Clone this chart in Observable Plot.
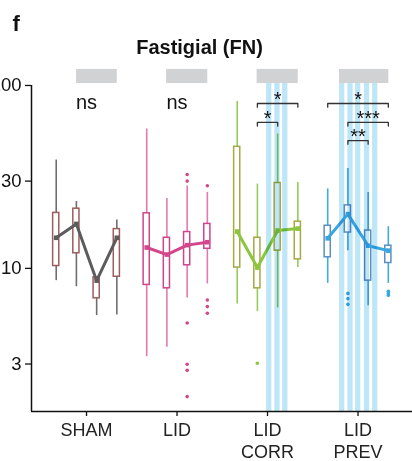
<!DOCTYPE html>
<html><head><meta charset="utf-8">
<script src="https://cdn.jsdelivr.net/npm/d3@7"></script>
<script src="https://cdn.jsdelivr.net/npm/@observablehq/plot@0.6"></script>
<style>body{margin:0;background:#fff}</style>
</head><body><div id="chart"></div><script>
const groups = ["SHAM", "LID", "LID\nCORR", "LID\nPREV"];
const boxOffsets = [-0.335, -0.112, 0.112, 0.335];
// 16 boxes: 4 per group, group order as above
const whiskerLow = [8.57, 7.94, 5.52, 5.56,  3.29, 3.70, 6.89, 8.22,  6.39, 5.80, 6.08, 10.1,  8.28, 12.5, 6.25, 8.28];
const q1         = [10.3, 12.1, 6.86, 9.0,   8.12, 7.78, 10.4, 12.8,  10.1, 7.78, 12.5, 11.2,  11.5, 15.7, 8.57, 10.7];
const median     = [14.7, 17.5, 8.57, 14.7,  13.0, 11.9, 13.4, 13.9,  15.9, 10.1, 16.1, 16.5,  14.6, 19.8, 13.3, 12.5];
const q3         = [20.1, 21.2, 8.93, 16.4,  20.0, 14.7, 15.8, 17.5,  46.2, 14.7, 29.3, 18.0,  17.1, 22.1, 16.1, 13.3];
const whiskerHigh= [39.1, 23.2, 8.93, 18.4,  57.8, 24.1, 28.2, 26.0,  81.8, 28.9, 54.3, 29.5,  27.2, 35.2, 26.0, 16.9];
// outliers: group, box, value
const outlierGroup = [1,1,1,1,1,1, 1,1,1,1, 2, 3,3,3, 3,3,3];
const outlierBox   = [2,2,2,2,2,2, 3,3,3,3, 1, 1,1,1, 3,3,3];
const outlierValue = [32.6,30.0,5.03,2.99,2.77,1.99, 28.3,6.72,6.18,5.68, 3.03, 7.3,6.83,6.36, 7.49,7.3,7.12];

const boxColors = ["#9c5d5c", "#d0448a", "#a6a843", "#5b8ec5"];
const whiskerColors = ["#6e6e6e", "#e07bb2", "#95cc5a", "#3fa9e1"];
const lineColors = ["#5c5c5c", "#d3468c", "#8bc63e", "#39a6df"];

// stimulation stripes (x positions in group units)
const stripeX = [2.019, 2.11, 2.196, 2.825, 2.917, 3.002, 3.099, 3.19];
// gray bars per group: from/to offsets
const grayFrom = [-0.11, -0.115, -0.115, -0.205];
const grayTo = [0.34, 0.34, 0.34, 0.34];
// significance
const nsGroups = [0, 1];
const bracketGroup = [2, 2, 3, 3, 3];
const bracketFrom = [1, 1, 0, 1, 1];
const bracketTo = [3, 2, 3, 3, 2];
const bracketLevel = [0, 1, 0, 1, 2];
const bracketLabel = ["*", "*", "*", "***", "**"];
const levelValues = [79.7, 62.8, 50.0];
const yTicks = [3, 10, 30, 100];

const yMin = 1.65, yTop = 128.6, stripeTop = 102.5, grayTop = 122.4;
const bw = 0.034, sw = 0.029;

const boxes = [];
for (let g = 0; g < 4; g++) for (let b = 0; b < 4; b++) {
  const i = g * 4 + b;
  boxes.push({g, b, x: g + boxOffsets[b], low: whiskerLow[i], q1: q1[i], med: median[i], q3: q3[i], high: whiskerHigh[i]});
}
const outliers = outlierValue.map((v, i) => ({g: outlierGroup[i], x: outlierGroup[i] + boxOffsets[outlierBox[i]], v}));
const grays = grayFrom.map((f, g) => ({x1: g + f, x2: g + grayTo[g]}));
const bracketPts = [];
const bracketTxt = [];
bracketGroup.forEach((g, k) => {
  const xa = g + boxOffsets[bracketFrom[k]], xb = g + boxOffsets[bracketTo[k]];
  const y = levelValues[bracketLevel[k]], yl = y * 0.955;
  [[xa, yl], [xa, y], [xb, y], [xb, yl]].forEach(([x, yy]) => bracketPts.push({id: k, x, y: yy}));
  bracketTxt.push({x: (xa + xb) / 2, y, t: bracketLabel[k]});
});

const font = "'Liberation Sans', Arial, Helvetica, sans-serif";
const chart = Plot.plot({
  width: 412, height: 461,
  marginLeft: 31, marginRight: 0, marginTop: 65, marginBottom: 50,
  x: {domain: [-0.608, 3.602], axis: null},
  y: {type: "log", domain: [yMin, yTop], axis: null},
  style: {fontFamily: font, background: "white", color: "#111"},
  marks: [
    Plot.rect(grays, {x1: "x1", x2: "x2", y1: stripeTop, y2: grayTop, fill: "#d1d2d4"}),
    Plot.ruleX(boxes, {x: "x", y1: "low", y2: "high", stroke: d => whiskerColors[d.g], strokeWidth: 1.6}),
    Plot.rect(boxes, {x1: d => d.x - bw, x2: d => d.x + bw, y1: "q1", y2: "q3", fill: "white", stroke: d => boxColors[d.g], strokeWidth: 1.5}),
    Plot.dot(outliers, {x: "x", y: "v", r: 1.8, fill: d => lineColors[d.g], stroke: "none"}),
    Plot.line(boxes, {x: "x", y: "med", z: "g", stroke: d => lineColors[d.g], strokeWidth: 3}),
    Plot.dot(boxes, {x: "x", y: "med", symbol: "square", r: 2.6, fill: d => lineColors[d.g], stroke: "none"}),
    Plot.rect(stripeX, {x1: d => d - sw, x2: d => d + sw, y1: yMin, y2: stripeTop, fill: "#bde6f7", mixBlendMode: "multiply"}),
    Plot.ruleX([-0.608], {y1: yMin, y2: 100, stroke: "#111", strokeWidth: 1.5}),
    Plot.ruleY([yMin], {stroke: "#111", strokeWidth: 1.5}),
    Plot.axisY({ticks: yTicks, tickFormat: d => String(d), tickSize: 6, tickPadding: 4, fontSize: 18.5, stroke: "#111", strokeWidth: 1.3}),
    Plot.axisX({ticks: [0, 1, 2, 3], tickFormat: i => groups[i], tickSize: 5, tickPadding: 5, fontSize: 18, lineHeight: 1.17, fill: "#222", stroke: "#111", strokeWidth: 1.3}),
    Plot.text(nsGroups, {x: d => d, y: levelValues[0], text: () => "ns", fontSize: 20, dy: -1, fill: "#111"}),
    Plot.line(bracketPts, {x: "x", y: "y", z: "id", stroke: "#333", strokeWidth: 1.3}),
    Plot.text(bracketTxt, {x: "x", y: "y", text: "t", fontSize: 20, dy: -4, fill: "#111"}),
    Plot.text(["Fastigial (FN)"], {frameAnchor: "top-left", lineAnchor: "middle", dx: 168, dy: -17.5, textAnchor: "middle", fontSize: 20, fontWeight: "bold", fill: "#111"}),
    Plot.text(["f"], {frameAnchor: "top-left", lineAnchor: "middle", dx: -19, dy: -42, textAnchor: "start", fontSize: 22, fontWeight: "bold", fill: "#111"})
  ]
});
document.getElementById("chart").appendChild(chart);
</script></body></html>
